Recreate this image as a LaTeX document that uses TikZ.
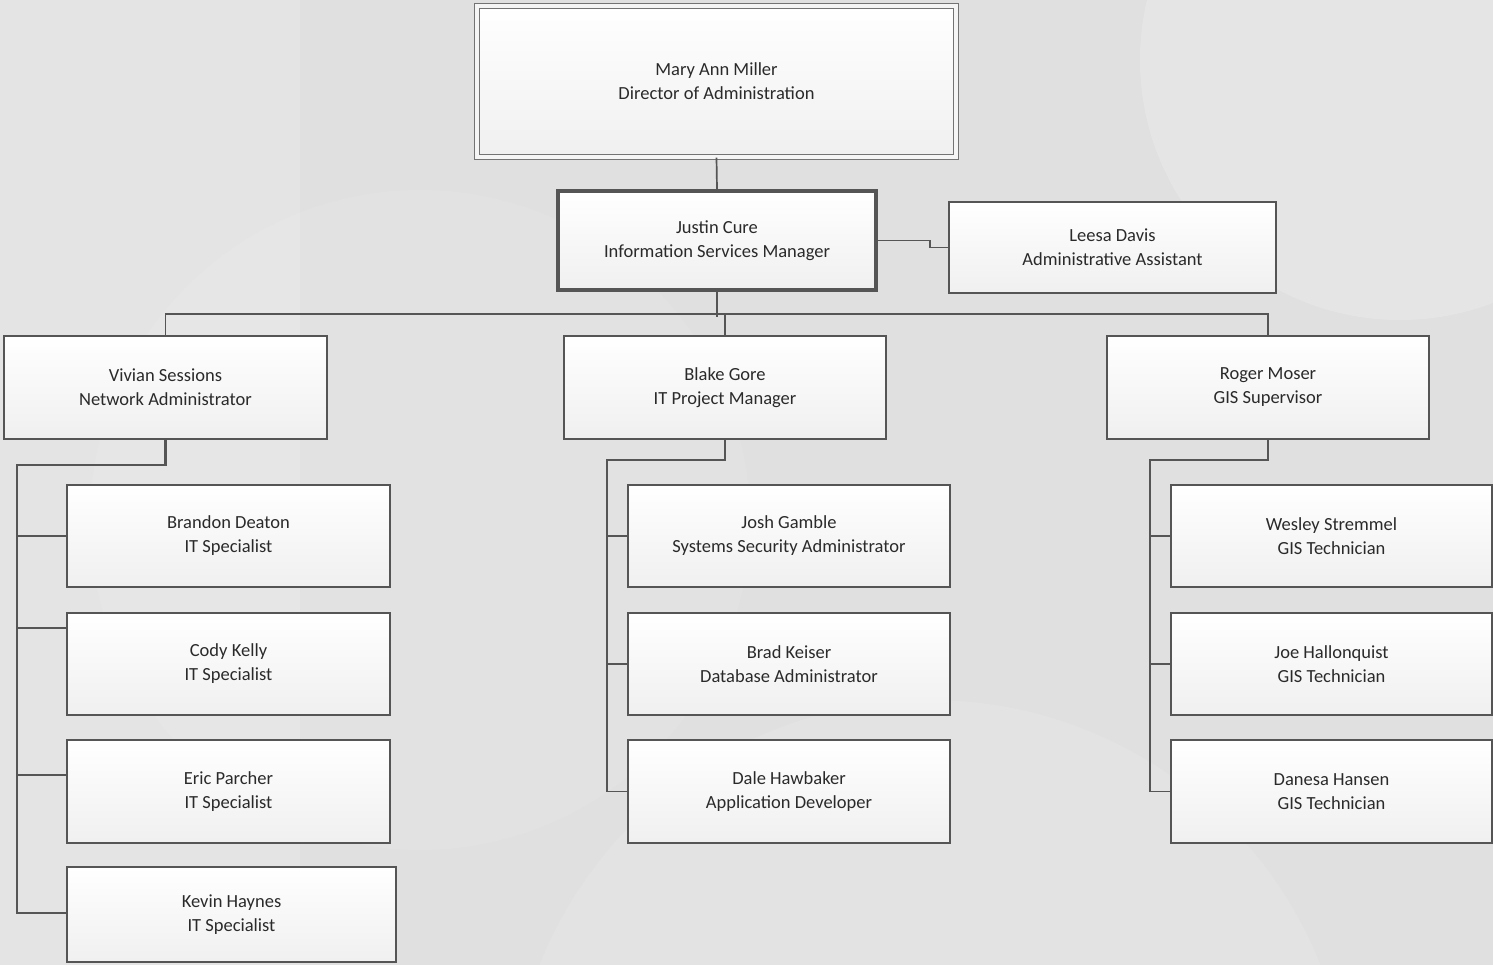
\documentclass[tikz,border=0pt]{standalone}
\usepackage{fontspec}
\setmainfont{Carlito}
\usetikzlibrary{calc}
\definecolor{bg}{HTML}{E0E0E0}
\definecolor{edge}{HTML}{555555}
\definecolor{txt}{HTML}{2A2A2A}
\tikzset{
  card/.style={draw=edge, line width=1.6pt, top color=white, bottom color=black!6,
    text=txt, align=center, font=\fontsize{18.5}{24}\selectfont, inner sep=0pt},
  link/.style={draw=edge, line width=1.7pt},
}
\begin{document}
\begin{tikzpicture}[x=1pt,y=-1pt]
\useasboundingbox (0,0) rectangle (1493,965);
% background
\begin{scope}
\clip (0,0) rectangle (1493,965);
\fill[bg] (0,0) rectangle (1493,965);
\fill[white, opacity=0.15] (0,0) rectangle (300,965);
\fill[white, opacity=0.18] (1400,60) circle (260);
\fill[white, opacity=0.1] (930,1120) circle (420);
\fill[white, opacity=0.08] (420,520) circle (330);
\end{scope}

% nodes
\node[card, draw=black!55, line width=1.3pt, double=black!4, double distance=4pt,
      minimum width=479, minimum height=151] (mary) at (716.5,81.5)
      {Mary Ann Miller\\Director of Administration};
\node[card, line width=4pt, minimum width=318, minimum height=99] (justin) at (717,240.5)
      {Justin Cure\\Information Services Manager};
\node[card, minimum width=327, minimum height=91] (leesa) at (1112.5,247.5)
      {Leesa Davis\\Administrative Assistant};

\node[card, minimum width=323, minimum height=103] (vivian) at (165.5,387.5)
      {Vivian Sessions\\Network Administrator};
\node[card, minimum width=322, minimum height=103] (blake) at (725,387.5)
      {Blake Gore\\IT Project Manager};
\node[card, minimum width=322, minimum height=103] (roger) at (1268,387.5)
      {Roger Moser\\GIS Supervisor};

\node[card, minimum width=323, minimum height=102] (brandon) at (228.5,536)
      {Brandon Deaton\\IT Specialist};
\node[card, minimum width=323, minimum height=102] (cody) at (228.5,664)
      {Cody Kelly\\IT Specialist};
\node[card, minimum width=323, minimum height=103] (eric) at (228.5,791.5)
      {Eric Parcher\\IT Specialist};
\node[card, minimum width=329, minimum height=95] (kevin) at (231.5,914.5)
      {Kevin Haynes\\IT Specialist};

\node[card, minimum width=322, minimum height=102] (josh) at (789,536)
      {Josh Gamble\\Systems Security Administrator};
\node[card, minimum width=322, minimum height=102] (brad) at (789,664)
      {Brad Keiser\\Database Administrator};
\node[card, minimum width=322, minimum height=103] (dale) at (789,791.5)
      {Dale Hawbaker\\Application Developer};

\node[card, minimum width=321, minimum height=102] (wesley) at (1331.5,536)
      {Wesley Stremmel\\GIS Technician};
\node[card, minimum width=321, minimum height=102] (joe) at (1331.5,664)
      {Joe Hallonquist\\GIS Technician};
\node[card, minimum width=321, minimum height=103] (danesa) at (1331.5,791.5)
      {Danesa Hansen\\GIS Technician};

% connectors
\draw[link] (mary.south) -- (justin.north);
\draw[link] (justin.east) -- ++(52,0) |- (leesa.west);
\draw[link] (justin.south) -- ++(0,25);
\draw[link] (vivian.north) -- ++(0,-21) -| (roger.north);
\draw[link] (blake.north) -- ++(0,-21);

% left group
\coordinate (vbus) at (17,465);
\coordinate (vend) at (17,913);
\coordinate (cb) at ($(cody.north west)+(0,16)$);
\coordinate (eb) at ($(eric.north west)+(0,36)$);
\draw[link, line width=2.4pt] (vivian.south) |- (vbus) -- (vend) -- (vend -| kevin.west);
\draw[link] (vbus |- brandon.west) -- (brandon.west);
\draw[link] (vbus |- cb) -- (cb);
\draw[link] (vbus |- eb) -- (eb);

% middle group
\coordinate (mbus) at (607,460);
\draw[link] (blake.south) |- (mbus) -- (mbus |- dale.west) -- (dale.west);
\draw[link] (mbus |- josh.west) -- (josh.west);
\draw[link] (mbus |- brad.west) -- (brad.west);

% right group
\coordinate (rbus) at (1150,460);
\draw[link] (roger.south) |- (rbus) -- (rbus |- danesa.west) -- (danesa.west);
\draw[link] (rbus |- wesley.west) -- (wesley.west);
\draw[link] (rbus |- joe.west) -- (joe.west);
\end{tikzpicture}
\end{document}
